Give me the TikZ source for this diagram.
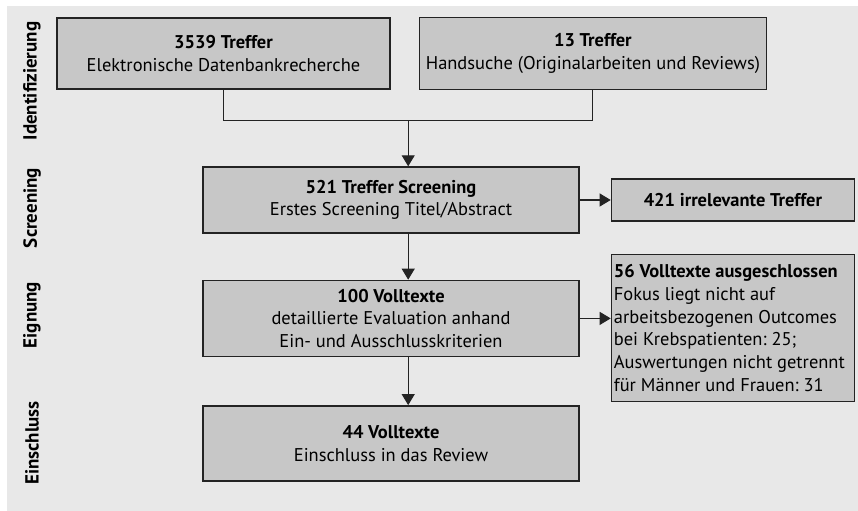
\documentclass[tikz,border=0pt]{standalone}
\usepackage{fontspec}
\setmainfont{PT Sans}
\usepackage{xcolor}
\usepackage{tikz}
\usetikzlibrary{arrows.meta, positioning, calc}
\definecolor{bggray}{RGB}{232, 232, 232}
\definecolor{boxgray}{RGB}{199, 199, 199}
\definecolor{edge}{RGB}{35, 35, 35}
\frenchspacing

\begin{document}
\begin{tikzpicture}[
  box/.style={rectangle, draw=edge, fill=boxgray, line width=0.8pt, minimum width=7.52cm, align=center, font=\fontsize{10.5}{12.9}\selectfont, inner sep=1pt},
  listbox/.style={box, minimum width=4.86cm, text width=4.76cm, align=flush left, inner sep=0.05cm},
  phase/.style={rotate=90, font=\bfseries\fontsize{10.8}{13}\selectfont},
  arrow/.style={-{Triangle[length=0.22cm, width=0.26cm]}, line width=0.6pt, edge},
  link/.style={line width=0.6pt, edge}
]
  % Canvas
  \useasboundingbox (0,0) rectangle (17.16,-10.22);
  \fill[bggray] (0.14,-0.12) rectangle (17.16,-10.22);

  % Phases
  \node[phase] (p1) at (0.64,-1.62) {Identifizierung};
  \node[phase] (p2) at (0.64,-4.16) {Screening};
  \node[phase] (p3) at (0.64,-6.30) {Eignung};
  \node[phase] (p4) at (0.64,-8.86) {Einschluss};

  % Nodes
  \node[box, minimum width=6.66cm, minimum height=1.42cm] (db) at (4.47,-1.07) {\textbf{3539 Treffer}\\Elektronische Datenbankrecherche};
  \node[box, minimum width=6.94cm, minimum height=1.44cm, right=0.56cm of db] (hand) {\textbf{13 Treffer}\\Handsuche (Originalarbeiten und Reviews)};
  \node[box, minimum height=1.32cm] (screen) at (7.82,-4.00) {\textbf{521 Treffer Screening}\\Erstes Screening Titel/Abstract};
  \node[box, minimum width=4.86cm, minimum height=0.84cm, right=0.62cm of screen] (irr) {\textbf{421 irrelevante Treffer}};
  \node[box, minimum height=1.52cm, below=0.92cm of screen] (full) {\textbf{100 Volltexte}\\detaillierte Evaluation anhand\\Ein- und Ausschlusskriterien};
  \node[listbox, minimum height=2.94cm, anchor=north west] (excl) at ([xshift=0.62cm, yshift=0.52cm]full.north east) {\textbf{56 Volltexte ausgeschlossen}\\Fokus liegt nicht auf\\arbeitsbezogenen Outcomes\\bei Krebspatienten: 25;\\Auswertungen nicht getrennt\\für Männer und Frauen: 31};
  \node[box, minimum height=1.50cm, below=0.96cm of full] (incl) {\textbf{44 Volltexte}\\Einschluss in das Review};

  % Paths
  \coordinate (join) at ($(db.south)!0.5!(hand.south)+(0,-0.62)$);
  \draw[link] (db.south) |- (join) -| (hand.south);
  \draw[arrow] (join) -- (join |- screen.north);
  \draw[arrow] (screen) -- (irr);
  \draw[arrow] (join |- screen.south) -- (join |- full.north);
  \draw[arrow] (full.east) -- (full.east -| excl.west);
  \draw[arrow] (join |- full.south) -- (join |- incl.north);
\end{tikzpicture}
\end{document}
